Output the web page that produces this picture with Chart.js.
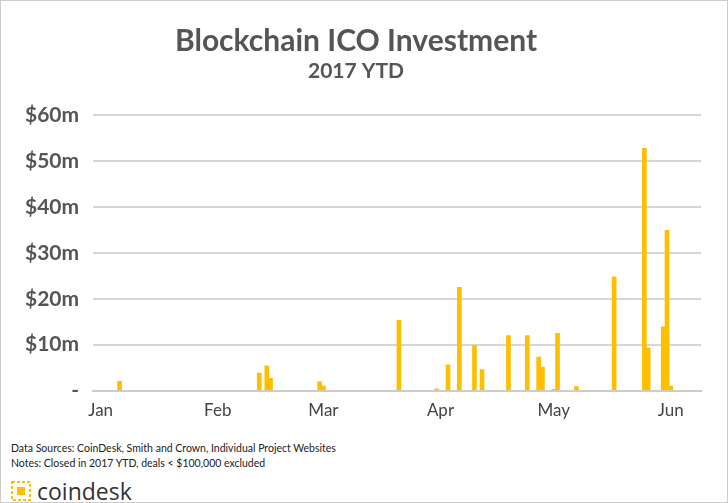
<!DOCTYPE html>
<html><head><meta charset="utf-8">
<script src="https://cdn.jsdelivr.net/npm/chart.js@4"></script>
<style>
body{margin:0;background:#fff;font-family:Lato,"Open Sans",sans-serif;}
#wrap{position:relative;width:728px;height:503px;border:1px solid #ccc;box-sizing:border-box;}
#c{position:absolute;left:0;top:0;}
.note{position:absolute;left:10px;font-size:10.5px;color:#222;}
#logo{position:absolute;left:10px;top:474px;display:flex;align-items:center;}
#logo span{font-size:23px;color:#333;margin-left:6px;font-family:"Open Sans",sans-serif;}
</style></head><body>
<div id="wrap">
<canvas id="c" width="726" height="424"></canvas>
<div class="note" style="top:441px">Data Sources: CoinDesk, Smith and Crown, Individual Project Websites</div>
<div class="note" style="top:456px">Notes: Closed in 2017 YTD, deals &lt; $100,000 excluded</div>
<div id="logo"><svg width="20" height="20"><rect x="1" y="1" width="18" height="18" fill="none" stroke="#ffbf00" stroke-width="2" stroke-dasharray="3,2"/><rect x="6" y="6" width="8" height="8" fill="#ffbf00"/></svg><span>coindesk</span></div>
</div>
<script>
// day of year (0 = Jan 1) and amount in $m
var days = [5, 42, 44, 45, 58, 59, 79, 89, 92, 95, 99, 101, 108, 113, 116, 117, 120, 121, 126, 136, 144, 145, 149, 150, 151];
var amounts = [2, 3.8, 5.4, 2.7, 1.9, 1, 15.3, 0.4, 5.6, 22.5, 9.8, 4.6, 12, 12, 7.3, 5.1, 0.3, 12.5, 0.9, 24.8, 52.8, 9.3, 13.9, 34.9, 1];
var monthDays = [0, 31, 59, 90, 120, 151];
var monthNames = ['Jan', 'Feb', 'Mar', 'Apr', 'May', 'Jun'];
var yTicks = [0, 10, 20, 30, 40, 50, 60];

var pts = days.map(function(d, i){ return {x: d, y: amounts[i]}; });
new Chart(document.getElementById('c'), {
  type: 'bar',
  data: {datasets: [{data: pts, backgroundColor: '#ffbf00', barThickness: 4}]},
  options: {
    responsive: false, animation: false,
    layout: {padding: {left: 10, right: 26, top: 0, bottom: 0}},
    plugins: {
      legend: {display: false}, tooltip: {enabled: false},
      title: {display: true, text: 'Blockchain ICO Investment', color: '#555', font: {size: 30, weight: 'bold', family: 'Lato'}, padding: {top: 22, bottom: 0}},
      subtitle: {display: true, text: '2017 YTD', color: '#555', font: {size: 21, weight: 'bold', family: 'Lato'}, padding: {bottom: 31}}
    },
    scales: {
      x: {type: 'linear', min: -2, max: 159, offset: false,
        afterBuildTicks: function(a){ a.ticks = monthDays.map(function(v){ return {value: v}; }); },
        ticks: {callback: function(v){ return monthNames[monthDays.indexOf(v)]; }, color: '#444', font: {size: 17, family: 'Lato'}, padding: 4, maxRotation: 0},
        grid: {display: false, offset: false, drawTicks: true, tickLength: 6, tickColor: '#ccc'},
        border: {color: '#ccc', width: 2}
      },
      y: {min: 0, max: 60,
        afterBuildTicks: function(a){ a.ticks = yTicks.map(function(v){ return {value: v}; }); },
        ticks: {callback: function(v){ return v === 0 ? '-' : '$' + v + 'm'; }, color: '#555', font: {size: 21, weight: 'bold', family: 'Lato'}, padding: 14},
        grid: {color: '#d6d6d6', lineWidth: 2, drawTicks: false},
        border: {display: false}
      }
    }
  }
});
</script>
</body></html>
